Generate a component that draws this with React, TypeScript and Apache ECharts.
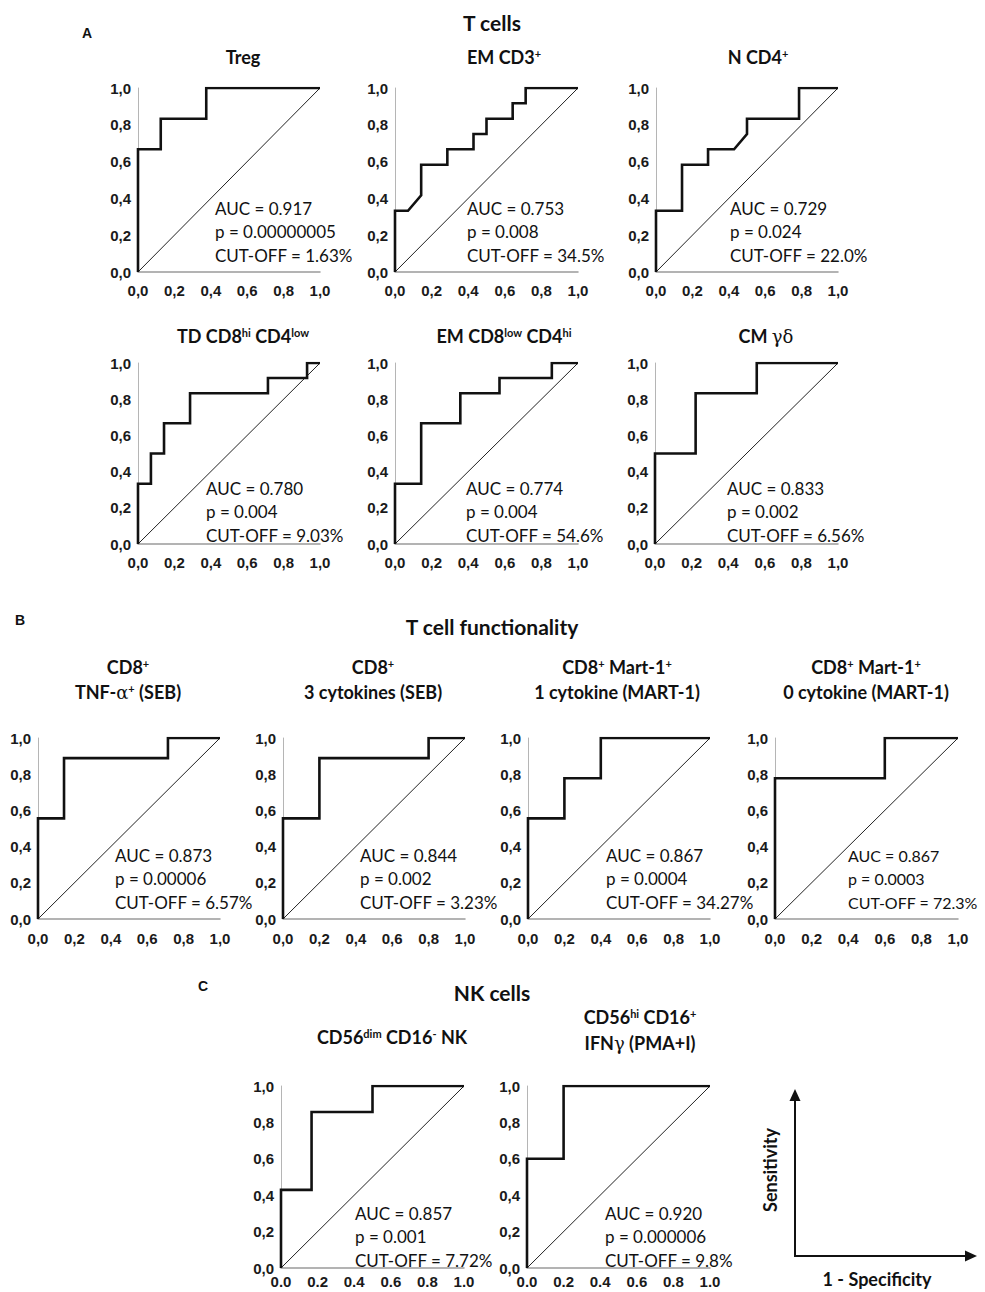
import React, { useEffect, useRef } from "react";
import * as echarts from "echarts";

// ---- Data ----
const tickLabelsComma = ["0,0", "0,2", "0,4", "0,6", "0,8", "1,0"];
const tickLabelsDot = ["0.0", "0.2", "0.4", "0.6", "0.8", "1.0"];

const diagonal = [[0, 0], [1, 1]];

const rocTreg = [[0, 0], [0, 0.667], [0.125, 0.667], [0.125, 0.833], [0.375, 0.833], [0.375, 1], [1, 1]];
const rocEmCd3 = [[0, 0], [0, 0.333], [0.071, 0.333], [0.143, 0.417], [0.143, 0.583], [0.286, 0.583], [0.286, 0.667], [0.429, 0.667], [0.429, 0.75], [0.5, 0.75], [0.5, 0.833], [0.643, 0.833], [0.643, 0.917], [0.714, 0.917], [0.714, 1], [1, 1]];
const rocNCd4 = [[0, 0], [0, 0.333], [0.143, 0.333], [0.143, 0.583], [0.286, 0.583], [0.286, 0.667], [0.429, 0.667], [0.5, 0.75], [0.5, 0.833], [0.786, 0.833], [0.786, 1], [1, 1]];
const rocTdCd8 = [[0, 0], [0, 0.333], [0.071, 0.333], [0.071, 0.5], [0.143, 0.5], [0.143, 0.667], [0.286, 0.667], [0.286, 0.833], [0.714, 0.833], [0.714, 0.917], [0.929, 0.917], [0.929, 1], [1, 1]];
const rocEmCd8 = [[0, 0], [0, 0.333], [0.143, 0.333], [0.143, 0.667], [0.357, 0.667], [0.357, 0.833], [0.571, 0.833], [0.571, 0.917], [0.857, 0.917], [0.857, 1], [1, 1]];
const rocCmGd = [[0, 0], [0, 0.5], [0.222, 0.5], [0.222, 0.833], [0.556, 0.833], [0.556, 1], [1, 1]];
const rocTnf = [[0, 0], [0, 0.556], [0.143, 0.556], [0.143, 0.889], [0.714, 0.889], [0.714, 1], [1, 1]];
const roc3Cyt = [[0, 0], [0, 0.556], [0.2, 0.556], [0.2, 0.889], [0.8, 0.889], [0.8, 1], [1, 1]];
const roc1Cyt = [[0, 0], [0, 0.556], [0.2, 0.556], [0.2, 0.778], [0.4, 0.778], [0.4, 1], [1, 1]];
const roc0Cyt = [[0, 0], [0, 0.778], [0.6, 0.778], [0.6, 1], [1, 1]];
const rocCd56dim = [[0, 0], [0, 0.429], [0.167, 0.429], [0.167, 0.857], [0.5, 0.857], [0.5, 1], [1, 1]];
const rocCd56hi = [[0, 0], [0, 0.6], [0.2, 0.6], [0.2, 1], [1, 1]];

const aucValues = ["0.917", "0.753", "0.729", "0.780", "0.774", "0.833", "0.873", "0.844", "0.867", "0.867", "0.857", "0.920"];
const pValues = ["0.00000005", "0.008", "0.024", "0.004", "0.004", "0.002", "0.00006", "0.002", "0.0004", "0.0003", "0.001", "0.000006"];
const cutOffValues = ["1.63%", "34.5%", "22.0%", "9.03%", "54.6%", "6.56%", "6.57%", "3.23%", "34.27%", "72.3%", "7.72%", "9.8%"];

const rocCurves = [rocTreg, rocEmCd3, rocNCd4, rocTdCd8, rocEmCd8, rocCmGd, rocTnf, roc3Cyt, roc1Cyt, roc0Cyt, rocCd56dim, rocCd56hi];

// ---- Layout (positions / styles) ----
// grid [left, top, width, height], stats text [x, y], stats font size, x label margin, dot labels on x
const layout = [
  { g: [138, 88, 182, 184], t: [215, 208], fs: 17, xm: 11, dot: false },
  { g: [395, 88, 183, 184], t: [467, 208], fs: 17, xm: 11, dot: false },
  { g: [656, 88, 182, 184], t: [730, 208], fs: 17, xm: 11, dot: false },
  { g: [138, 363, 182, 181], t: [206, 488], fs: 17, xm: 11, dot: false },
  { g: [395, 363, 183, 181], t: [466, 488], fs: 17, xm: 11, dot: false },
  { g: [655, 363, 183, 181], t: [727, 488], fs: 17, xm: 11, dot: false },
  { g: [38, 738, 182, 181], t: [115, 855], fs: 17, xm: 12, dot: false },
  { g: [283, 738, 182, 181], t: [360, 855], fs: 17, xm: 12, dot: false },
  { g: [528, 738, 182, 181], t: [606, 855], fs: 17, xm: 12, dot: false },
  { g: [775, 738, 183, 181], t: [848, 855], fs: 16, xm: 12, dot: false },
  { g: [281, 1086, 183, 182], t: [355, 1213], fs: 17, xm: 6, dot: true },
  { g: [527, 1086, 183, 182], t: [605, 1213], fs: 17, xm: 6, dot: true },
];

const TICK_FONT = "'Liberation Sans', Arial, sans-serif";
const TITLE_FONT = "Lato, 'Open Sans', sans-serif";
const STAT_FONT = "Lato, 'Open Sans', sans-serif";
const INK = "#111";

function richStyles(size: number) {
  return {
    sup: { fontSize: Math.round(size * 0.62), fontWeight: "bold", fontFamily: TITLE_FONT, fill: INK, verticalAlign: "top" },
    greek: { fontSize: size, fontWeight: "normal", fontFamily: "'DejaVu Serif', serif", fill: INK },
  };
}

function title(text: string, x: number, y: number, size = 18) {
  return {
    type: "text",
    x,
    y,
    style: {
      text,
      align: "center",
      verticalAlign: "middle",
      textAlign: "center",
      textVerticalAlign: "middle",
      fontSize: size,
      fontWeight: "bold",
      fontFamily: TITLE_FONT,
      fill: INK,
      rich: richStyles(size),
    },
  };
}

function plain(text: string, x: number, y: number, size: number, weight = "normal", family = STAT_FONT, align = "left") {
  return {
    type: "text",
    x,
    y,
    style: {
      text,
      align,
      verticalAlign: "middle",
      textAlign: align,
      textVerticalAlign: "middle",
      fontSize: size,
      fontWeight: weight,
      fontFamily: family,
      fill: INK,
    },
  };
}

export default function App() {
  const ref = useRef<HTMLDivElement>(null);

  useEffect(() => {
    if (!ref.current) return;
    const chart = echarts.init(ref.current, undefined, { renderer: "svg" });

    const grid = layout.map((l) => ({ left: l.g[0], top: l.g[1], width: l.g[2], height: l.g[3] }));
    const xAxis = layout.map((l, i) => ({
      type: "value",
      gridIndex: i,
      min: 0,
      max: 1,
      interval: 0.2,
      axisLine: { show: true, onZero: false, lineStyle: { color: "#9a9a9a", width: 1.5 } },
      axisTick: { show: false },
      splitLine: { show: false },
      axisLabel: {
        formatter: (v: number) => (l.dot ? tickLabelsDot : tickLabelsComma)[Math.round(v * 5)],
        margin: l.xm,
        fontSize: 15,
        fontWeight: "bold",
        fontFamily: TICK_FONT,
        color: "#1a1a1a",
        showMinLabel: true,
        showMaxLabel: true,
      },
    }));
    const yAxis = layout.map((l, i) => ({
      type: "value",
      gridIndex: i,
      min: 0,
      max: 1,
      interval: 0.2,
      axisLine: { show: true, onZero: false, lineStyle: { color: "#b5b5b5", width: 1 } },
      axisTick: { show: false },
      splitLine: { show: false },
      axisLabel: {
        formatter: (v: number) => tickLabelsComma[Math.round(v * 5)],
        margin: 7,
        fontSize: 15,
        fontWeight: "bold",
        fontFamily: TICK_FONT,
        color: "#1a1a1a",
        showMinLabel: true,
        showMaxLabel: true,
      },
    }));

    const series: any[] = [];
    rocCurves.forEach((curve, i) => {
      series.push({
        type: "line",
        xAxisIndex: i,
        yAxisIndex: i,
        data: diagonal,
        symbol: "none",
        silent: true,
        lineStyle: { color: "#222", width: 1 },
      });
      series.push({
        type: "line",
        xAxisIndex: i,
        yAxisIndex: i,
        data: curve,
        symbol: "none",
        silent: true,
        lineStyle: { color: "#111", width: 2.6, join: "miter" },
      });
    });

    const graphics: any[] = [];
    // section headings
    graphics.push(title("T cells", 492, 22, 21));
    graphics.push(plain("A", 87, 33, 14, "bold", "'Liberation Sans', Arial, sans-serif", "center"));
    graphics.push(title("Treg", 243, 57));
    graphics.push(title("EM CD3{sup|+}", 504, 57));
    graphics.push(title("N CD4{sup|+}", 758, 57));
    graphics.push(title("TD CD8{sup|hi} CD4{sup|low}", 243, 336));
    graphics.push(title("EM CD8{sup|low} CD4{sup|hi}", 504, 336));
    graphics.push(title("CM {greek|γδ}", 766, 336));

    graphics.push(plain("B", 20, 620, 14, "bold", "'Liberation Sans', Arial, sans-serif", "center"));
    graphics.push(title("T cell functionality", 492, 626, 21));
    graphics.push(title("CD8{sup|+}", 128, 667));
    graphics.push(title("TNF-{greek|α}{sup|+} (SEB)", 128, 692));
    graphics.push(title("CD8{sup|+}", 373, 667));
    graphics.push(title("3 cytokines (SEB)", 373, 692));
    graphics.push(title("CD8{sup|+} Mart-1{sup|+}", 617, 667));
    graphics.push(title("1 cytokine (MART-1)", 617, 692));
    graphics.push(title("CD8{sup|+} Mart-1{sup|+}", 866, 667));
    graphics.push(title("0 cytokine (MART-1)", 866, 692));

    graphics.push(plain("C", 203, 986, 14, "bold", "'Liberation Sans', Arial, sans-serif", "center"));
    graphics.push(title("NK cells", 492, 992, 21));
    graphics.push(title("CD56{sup|dim} CD16{sup|-} NK", 392, 1037));
    graphics.push(title("CD56{sup|hi} CD16{sup|+}", 640, 1017));
    graphics.push(title("IFN{greek|γ} (PMA+I)", 640, 1043));

    // stats texts
    layout.forEach((l, i) => {
      graphics.push(plain(`AUC = ${aucValues[i]}`, l.t[0], l.t[1], l.fs));
      graphics.push(plain(`p = ${pValues[i]}`, l.t[0], l.t[1] + 23.5, l.fs));
      graphics.push(plain(`CUT-OFF = ${cutOffValues[i]}`, l.t[0], l.t[1] + 47, l.fs));
    });

    // axis legend arrows
    graphics.push({ type: "line", shape: { x1: 795, y1: 1256, x2: 795, y2: 1098 }, style: { stroke: "#111", lineWidth: 2 } });
    graphics.push({ type: "polygon", shape: { points: [[795, 1089], [789.5, 1101], [800.5, 1101]] }, style: { fill: "#111" } });
    graphics.push({ type: "line", shape: { x1: 794, y1: 1256, x2: 968, y2: 1256 }, style: { stroke: "#111", lineWidth: 2 } });
    graphics.push({ type: "polygon", shape: { points: [[977, 1256], [965, 1250.5], [965, 1261.5]] }, style: { fill: "#111" } });
    graphics.push({
      type: "text",
      x: 770,
      y: 1170,
      rotation: Math.PI / 2,
      style: {
        text: "Sensitivity",
        align: "center",
        verticalAlign: "middle",
        textAlign: "center",
        textVerticalAlign: "middle",
        fontSize: 18,
        fontWeight: "bold",
        fontFamily: TITLE_FONT,
        fill: INK,
      },
    });
    graphics.push(title("1 - Specificity", 877, 1279));

    chart.setOption({
      animation: false,
      backgroundColor: "#fff",
      grid,
      xAxis,
      yAxis,
      series,
      graphic: { elements: graphics },
    });

    return () => chart.dispose();
  }, []);

  return <div ref={ref} style={{ position: "absolute", left: 0, top: 0, width: 985, height: 1292, background: "#fff" }} />;
}
